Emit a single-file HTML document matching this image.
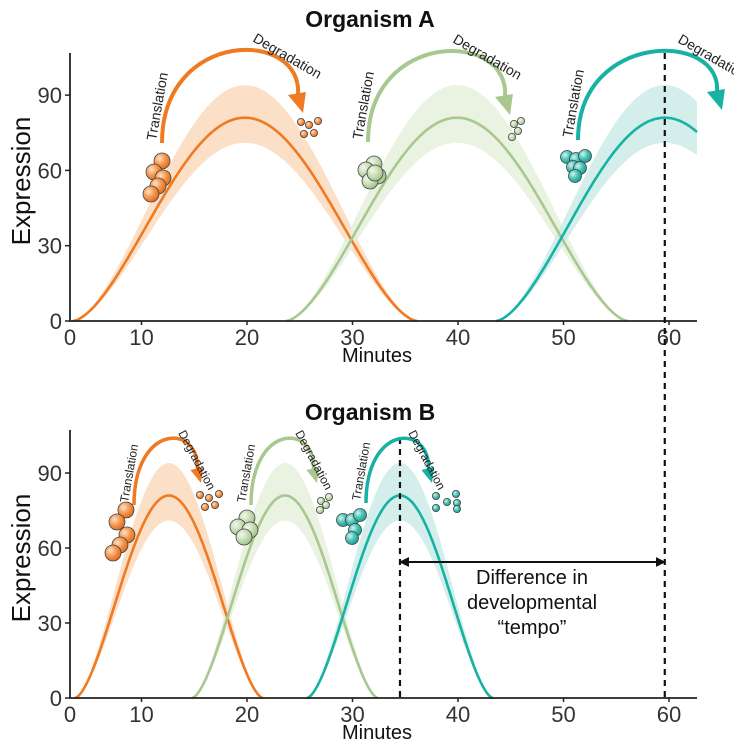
<!DOCTYPE html>
<html><head><meta charset="utf-8">
<style>
html,body{margin:0;padding:0;background:#fff;}
svg{display:block;font-family:"Liberation Sans",sans-serif;}
</style></head>
<body>
<svg id="chart" width="734" height="743" viewBox="0 0 734 743" xmlns="http://www.w3.org/2000/svg">
<defs>
<radialGradient id="gO" cx="35%" cy="35%" r="70%"><stop offset="0" stop-color="#fde3cc"/><stop offset="0.5" stop-color="#f59a52"/><stop offset="1" stop-color="#e0681a"/></radialGradient>
<radialGradient id="gG" cx="35%" cy="35%" r="70%"><stop offset="0" stop-color="#f3f8ee"/><stop offset="0.5" stop-color="#c9dfb8"/><stop offset="1" stop-color="#9fc088"/></radialGradient>
<radialGradient id="gT" cx="35%" cy="35%" r="70%"><stop offset="0" stop-color="#d5f3ef"/><stop offset="0.5" stop-color="#4cc4b8"/><stop offset="1" stop-color="#159e92"/></radialGradient>
<marker id="ah" viewBox="0 0 10 10" refX="5" refY="5" markerWidth="5" markerHeight="5" orient="auto-start-reverse"><path d="M0,0 L10,5 L0,10 z" fill="#111"/></marker>
</defs>
<g id="root"></g>
</svg>
<script>
// ---- data ----
const xTicks = [10, 20, 30, 40, 50, 60];
const yTicks = [0, 30, 60, 90];
const seriesNames = ["orange", "green", "teal"];
const peakTimesA = [19.8, 39.9, 59.6];
const peakTimesB = [12.6, 23.6, 34.5];
const halfWidthA = [16.3, 16.2, 16.0];
const halfWidthB = [8.9, 8.8, 8.8];
const peakValues = [81, 81, 81];
const bandUpper = [94, 94, 94];
const bandLower = [71, 71, 71];
const markerTimeA = 59.6;
const markerTimeB = 34.5;

const colors = ["#f07a22", "#a8c890", "#17b2a4"];
const bands = ["#fbd9bd", "#e6f0dd", "#cdebe8"];
const grads = ["url(#gO)", "url(#gG)", "url(#gT)"];
const NS = "http://www.w3.org/2000/svg";
const root = document.getElementById("root");

function xs(v){ return 36 + 10.55 * v; }
const X0 = 70, XEND = 697;
function mk(tag, attrs, parent){ const e = document.createElementNS(NS, tag); for (const k in attrs) e.setAttribute(k, attrs[k]); (parent||root).appendChild(e); return e; }
function shape(t, c, hw){ const u = (t - c) / hw; if (Math.abs(u) > 1) return 0; return Math.pow((Math.cos(Math.PI*u)+1)/2, 0.8); }

function panel(name, base, sc, peaks, hws){
  const g = mk("g", {});
  
  
  const ys = v => base - sc * v;
  const tmax = (XEND - 36) / 10.55, tmin = (X0 - 36) / 10.55;
  peaks.forEach((c, i) => {
    const t0 = Math.max(tmin, c - hws[i]), t1 = Math.min(tmax, c + hws[i]);
    let up = [], lo = [];
    for (let k = 0; k <= 120; k++) {
      const t = t0 + (t1 - t0) * k / 120, f = shape(t, c, hws[i]);
      up.push(xs(t).toFixed(1) + "," + ys(bandUpper[i]*f).toFixed(1));
      lo.push(xs(t).toFixed(1) + "," + ys(bandLower[i]*f).toFixed(1));
    }
    const band = mk("polygon", {points: up.concat(lo.reverse()).join(" "), fill: bands[i], opacity: 0.85}, g);
    
    
  });
  peaks.forEach((c, i) => {
    const t0 = Math.max(tmin, c - hws[i]), t1 = Math.min(tmax, c + hws[i]);
    let ln = [];
    for (let k = 0; k <= 120; k++) {
      const t = t0 + (t1 - t0) * k / 120, f = shape(t, c, hws[i]);
      ln.push(xs(t).toFixed(1) + "," + ys(peakValues[i]*f).toFixed(1));
    }
    const l = mk("polyline", {points: ln.join(" "), fill: "none", stroke: colors[i], "stroke-width": 2.6}, g);
    
    
  });
  const ax = mk("path", {d: `M${X0},${base - 268} V${base} H${XEND}`, fill: "none", stroke: "#222", "stroke-width": 1.8}, g);
  
  
  yTicks.forEach(v => {
    mk("line", {x1: X0 - 5, x2: X0, y1: ys(v), y2: ys(v), stroke: "#222", "stroke-width": 1.5}, g);
    const t = mk("text", {x: X0 - 8, y: ys(v) + 8, "text-anchor": "end", "font-size": 22, fill: "#333"}, g);
    t.textContent = v;
    
    
  });
  const z = mk("text", {x: X0, y: base + 24, "text-anchor": "middle", "font-size": 22, fill: "#333"}, g);
  z.textContent = "0";
  
  
  xTicks.forEach(v => {
    mk("line", {x1: xs(v), x2: xs(v), y1: base, y2: base + 4, stroke: "#222", "stroke-width": 1.5}, g);
    const t = mk("text", {x: xs(v), y: base + 24, "text-anchor": "middle", "font-size": 22, fill: "#333"}, g);
    t.textContent = v;
    
    
  });
  const xt = mk("text", {x: 377, y: base + 41, "text-anchor": "middle", "font-size": 20, fill: "#111"}, g);
  xt.textContent = "Minutes";
  
  
  const yt = mk("text", {x: 0, y: 0, "text-anchor": "middle", "font-size": 26, fill: "#111", transform: `translate(30,${base - 140}) rotate(-90)`}, g);
  yt.textContent = "Expression";
  
  
}

panel("organism-a-panel", 321, 2.51, peakTimesA, halfWidthA);
panel("organism-b-panel", 698, 2.5, peakTimesB, halfWidthB);

[["Organism A", 27, "title-organism-a"], ["Organism B", 420, "title-organism-b"]].forEach(d => {
  const t = mk("text", {x: 370, y: d[1], "text-anchor": "middle", "font-size": 23, "font-weight": "bold", fill: "#111"});
  t.textContent = d[0];
  
  
});

const dA = mk("line", {x1: xs(markerTimeA), x2: xs(markerTimeA), y1: 53, y2: 698, stroke: "#111", "stroke-width": 2.2, "stroke-dasharray": "6,5"});


const dB = mk("line", {x1: xs(markerTimeB), x2: xs(markerTimeB), y1: 438, y2: 698, stroke: "#111", "stroke-width": 2.2, "stroke-dasharray": "6,5"});


const arr = mk("line", {x1: xs(markerTimeB) + 4, x2: xs(markerTimeA) - 4, y1: 562, y2: 562, stroke: "#111", "stroke-width": 2, "marker-start": "url(#ah)", "marker-end": "url(#ah)"});


["Difference in", "developmental", "\u201ctempo\u201d"].forEach((s, i) => {
  const t = mk("text", {x: 532, y: 584 + i * 25, "text-anchor": "middle", "font-size": 20, fill: "#111"});
  t.textContent = s;
  
  
});

function annot(i, sx, sy, tx, ty, ex, ey, small){
  const c = colors[i];
  const g = mk("g", {});
  
  
  const hl = small ? 12 : 17;
  const bx = ex - hl * 0.3, by = ey - hl;
  const cy = (ty - 0.25 * (sy + by) / 2) / 0.75;
  mk("path", {d: `M${sx},${sy} C${sx},${cy} ${bx + (bx - sx) * 0.05},${cy} ${bx},${by}`, fill: "none", stroke: c, "stroke-width": small ? 3.5 : 4}, g);
  const hw = small ? 7 : 10;
  mk("polygon", {points: `${ex},${ey} ${bx - hw},${by - 1} ${bx + hw * 0.8},${by - 4}`, fill: c}, g);
  const ts = small ? 12 : 14;
  const tr = mk("text", {x: 0, y: 0, "font-size": ts, fill: "#222", transform: `translate(${sx - 6},${sy - 2}) rotate(-80)`}, g);
  tr.textContent = "Translation";
  const dg = mk("text", {x: 0, y: 0, "font-size": ts, fill: "#222", transform: small ? `translate(${tx + 8},${ty - 6}) rotate(62)` : `translate(${tx + 12},${ty - 10}) rotate(30)`}, g);
  dg.textContent = "Degradation";
}
annot(0, 162, 143, 240, 51, 303, 113, false);
annot(1, 368, 142, 440, 52, 510, 115, false);
annot(2, 578, 140, 665, 52, 722, 110, false);
annot(0, 134, 505, 170, 439, 201, 483, true);
annot(1, 251, 505, 287, 439, 317, 483, true);
annot(2, 366, 503, 400, 439, 432, 483, true);

function cluster(i, pts, r, name){
  const g = mk("g", {});
  
  
  pts.forEach(p => mk("circle", {cx: p[0], cy: p[1], r: r, fill: grads[i], stroke: "#444", "stroke-width": 0.8}, g));
}
cluster(0, [[162,161],[154,172],[163,178],[158,186],[151,194]], 8, "orange-protein-cluster-a");
cluster(1, [[374,164],[366,170],[378,176],[370,181],[375,173]], 8, "green-protein-cluster-a");
cluster(2, [[567,157],[576,159],[585,156],[573,167],[580,168],[575,176]], 6.5, "teal-protein-cluster-a");
cluster(0, [[126,510],[117,522],[127,535],[120,545],[113,553]], 8, "orange-protein-cluster-b");
cluster(1, [[247,518],[238,527],[250,530],[244,537]], 8, "green-protein-cluster-b");
cluster(2, [[343,520],[352,520],[360,515],[355,530],[352,538]], 6.5, "teal-protein-cluster-b");
cluster(0, [[301,122],[309,125],[318,121],[304,134],[314,133]], 3.6, "orange-degraded-a");
cluster(1, [[514,124],[521,121],[518,131],[512,137]], 3.6, "green-degraded-a");
cluster(0, [[200,495],[209,498],[219,494],[205,507],[215,505]], 3.6, "orange-degraded-b");
cluster(1, [[321,501],[329,497],[326,505],[320,510]], 3.6, "green-degraded-b");
cluster(2, [[436,496],[447,502],[456,494],[436,508],[457,503],[457,509]], 3.6, "teal-degraded-b");
</script>
</body></html>
